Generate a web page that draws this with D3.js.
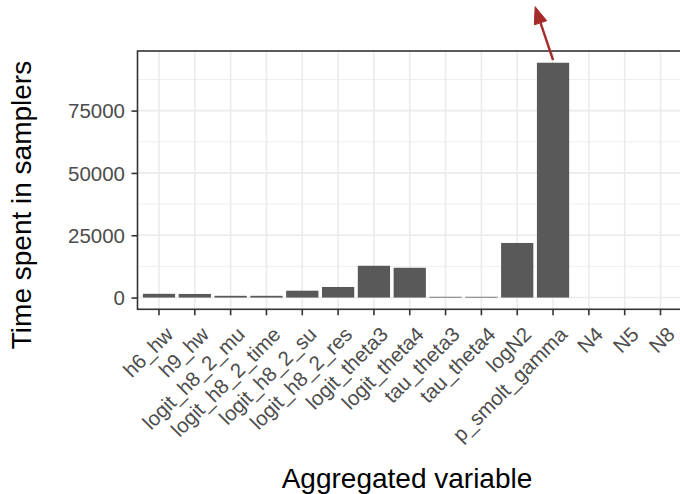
<!DOCTYPE html>
<html>
<head>
<meta charset="utf-8">
<script src="https://cdn.jsdelivr.net/npm/d3@7"></script>
<style>
  body { margin: 0; background: #fff; }
  svg { display: block; font-family: 'Liberation Sans', Arial, sans-serif; }
</style>
</head>
<body>
<div id="chart"></div>
<script>
// data
const categories = ['h6_hw', 'h9_hw', 'logit_h8_2_mu', 'logit_h8_2_time', 'logit_h8_2_su',
  'logit_h8_2_res', 'logit_theta3', 'logit_theta4', 'tau_theta3', 'tau_theta4',
  'logN2', 'p_smolt_gamma', 'N4', 'N5', 'N8']
const timeSpent = [1500, 1450, 700, 700, 2750, 4250, 12750, 11950, 300, 300, 21900, 94200, 0, 0, 0]
const yTicks = [0, 25000, 50000, 75000]
const yMinorTicks = [12500, 37500, 62500, 87500]
// arrow annotation: [category, offset in bands, value]
const arrowFrom = ['p_smolt_gamma', 0, 95300]
const arrowTo = ['p_smolt_gamma', -0.5, 116700]

const WIDTH = 680
const HEIGHT = 494
const PANEL = { left: 137.5, top: 51, right: 682, bottom: 309.3 }
const BAR_COLOR = '#595959'
const GRID_COLOR = '#EBEBEB'
const AXIS_COLOR = '#333333'
const TEXT_COLOR = '#4D4D4D'
const ARROW_COLOR = '#A52A2A'
const TICK_FONT = '20.5px'
const TITLE_FONT = '28px'

const data = categories.map((c, i) => ({ name: c, value: timeSpent[i] }))

const svg = d3.select('#chart')
  .append('svg')
  .attr('width', WIDTH)
  .attr('height', HEIGHT)

const x = d3.scaleBand()
  .domain(categories)
  .range([PANEL.left, PANEL.right])
  .paddingInner(0.1)
  .paddingOuter(0.15)

// ggplot style 5% expansion
const yMax = d3.max(timeSpent)
const y = d3.scaleLinear()
  .domain([-0.05 * yMax, 1.05 * yMax])
  .range([PANEL.bottom, PANEL.top])

const xc = d => x(d) + x.bandwidth() / 2

// clip for panel content
svg.append('clipPath')
  .attr('id', 'panel-clip')
  .append('rect')
  .attr('x', PANEL.left)
  .attr('y', PANEL.top)
  .attr('width', PANEL.right - PANEL.left)
  .attr('height', PANEL.bottom - PANEL.top)

const grid = svg.append('g').attr('clip-path', 'url(#panel-clip)')

// minor grid
grid.selectAll('.minor')
  .data(yMinorTicks)
  .enter()
  .append('line')
  .attr('x1', PANEL.left)
  .attr('x2', PANEL.right)
  .attr('y1', d => y(d))
  .attr('y2', d => y(d))
  .attr('stroke', GRID_COLOR)
  .attr('stroke-width', 0.8)

// major grid
grid.selectAll('.major-y')
  .data(yTicks)
  .enter()
  .append('line')
  .attr('x1', PANEL.left)
  .attr('x2', PANEL.right)
  .attr('y1', d => y(d))
  .attr('y2', d => y(d))
  .attr('stroke', GRID_COLOR)
  .attr('stroke-width', 1.6)

grid.selectAll('.major-x')
  .data(categories)
  .enter()
  .append('line')
  .attr('x1', d => xc(d))
  .attr('x2', d => xc(d))
  .attr('y1', PANEL.top)
  .attr('y2', PANEL.bottom)
  .attr('stroke', GRID_COLOR)
  .attr('stroke-width', 1.6)

// bars
grid.selectAll('.bar')
  .data(data)
  .enter()
  .append('rect')
  .attr('x', d => x(d.name))
  .attr('width', x.bandwidth())
  .attr('y', d => y(Math.max(0, d.value)))
  .attr('height', d => Math.abs(y(0) - y(d.value)))
  .attr('fill', BAR_COLOR)

// panel border
svg.append('rect')
  .attr('x', PANEL.left)
  .attr('y', PANEL.top)
  .attr('width', PANEL.right - PANEL.left)
  .attr('height', PANEL.bottom - PANEL.top)
  .attr('fill', 'none')
  .attr('stroke', AXIS_COLOR)
  .attr('stroke-width', 1.6)

// y axis
const yAxis = svg.append('g')
  .attr('transform', 'translate(' + PANEL.left + ',0)')
  .call(d3.axisLeft(y).tickValues(yTicks).tickSize(6).tickPadding(6.5).tickFormat(d3.format('d')))
yAxis.select('.domain').remove()
yAxis.selectAll('line').attr('stroke', AXIS_COLOR).attr('stroke-width', 1.6)
yAxis.selectAll('text')
  .attr('fill', TEXT_COLOR)
  .style('font-size', TICK_FONT)
  .attr('dy', '0.36em')

// x axis
const xAxis = svg.append('g')
  .attr('transform', 'translate(0,' + PANEL.bottom + ')')
  .call(d3.axisBottom(x).tickSize(6).tickSizeOuter(0))
xAxis.select('.domain').remove()
xAxis.selectAll('line').attr('stroke', AXIS_COLOR).attr('stroke-width', 1.6)
xAxis.selectAll('text')
  .attr('fill', TEXT_COLOR)
  .style('font-size', TICK_FONT)
  .attr('text-anchor', 'end')
  .attr('y', 0)
  .attr('dy', '0.72em')
  .attr('transform', 'translate(5,16) rotate(-45)')

// axis titles
svg.append('text')
  .attr('x', 407)
  .attr('y', 488)
  .attr('text-anchor', 'middle')
  .attr('fill', '#000')
  .style('font-size', TITLE_FONT)
  .text('Aggregated variable')

svg.append('text')
  .attr('transform', 'translate(31,205) rotate(-90)')
  .attr('text-anchor', 'middle')
  .attr('fill', '#000')
  .style('font-size', TITLE_FONT)
  .text('Time spent in samplers')

// arrow annotation
const ax1 = xc(arrowFrom[0]) + arrowFrom[1] * x.step()
const ay1 = y(arrowFrom[2])
const ax2 = xc(arrowTo[0]) + arrowTo[1] * x.step()
const ay2 = y(arrowTo[2])
const ang = Math.atan2(ay2 - ay1, ax2 - ax1)
const headLen = 17
const headHalf = 6.5
const bx = ax2 - headLen * Math.cos(ang)
const by = ay2 - headLen * Math.sin(ang)

svg.append('line')
  .attr('x1', ax1)
  .attr('y1', ay1)
  .attr('x2', bx)
  .attr('y2', by)
  .attr('stroke', ARROW_COLOR)
  .attr('stroke-width', 2.4)

svg.append('path')
  .attr('d', d3.line()([
    [ax2, ay2],
    [bx + headHalf * Math.sin(ang), by - headHalf * Math.cos(ang)],
    [bx - headHalf * Math.sin(ang), by + headHalf * Math.cos(ang)]
  ]) + 'Z')
  .attr('fill', ARROW_COLOR)
  .attr('stroke', ARROW_COLOR)
  .attr('stroke-width', 1)
</script>
</body>
</html>
